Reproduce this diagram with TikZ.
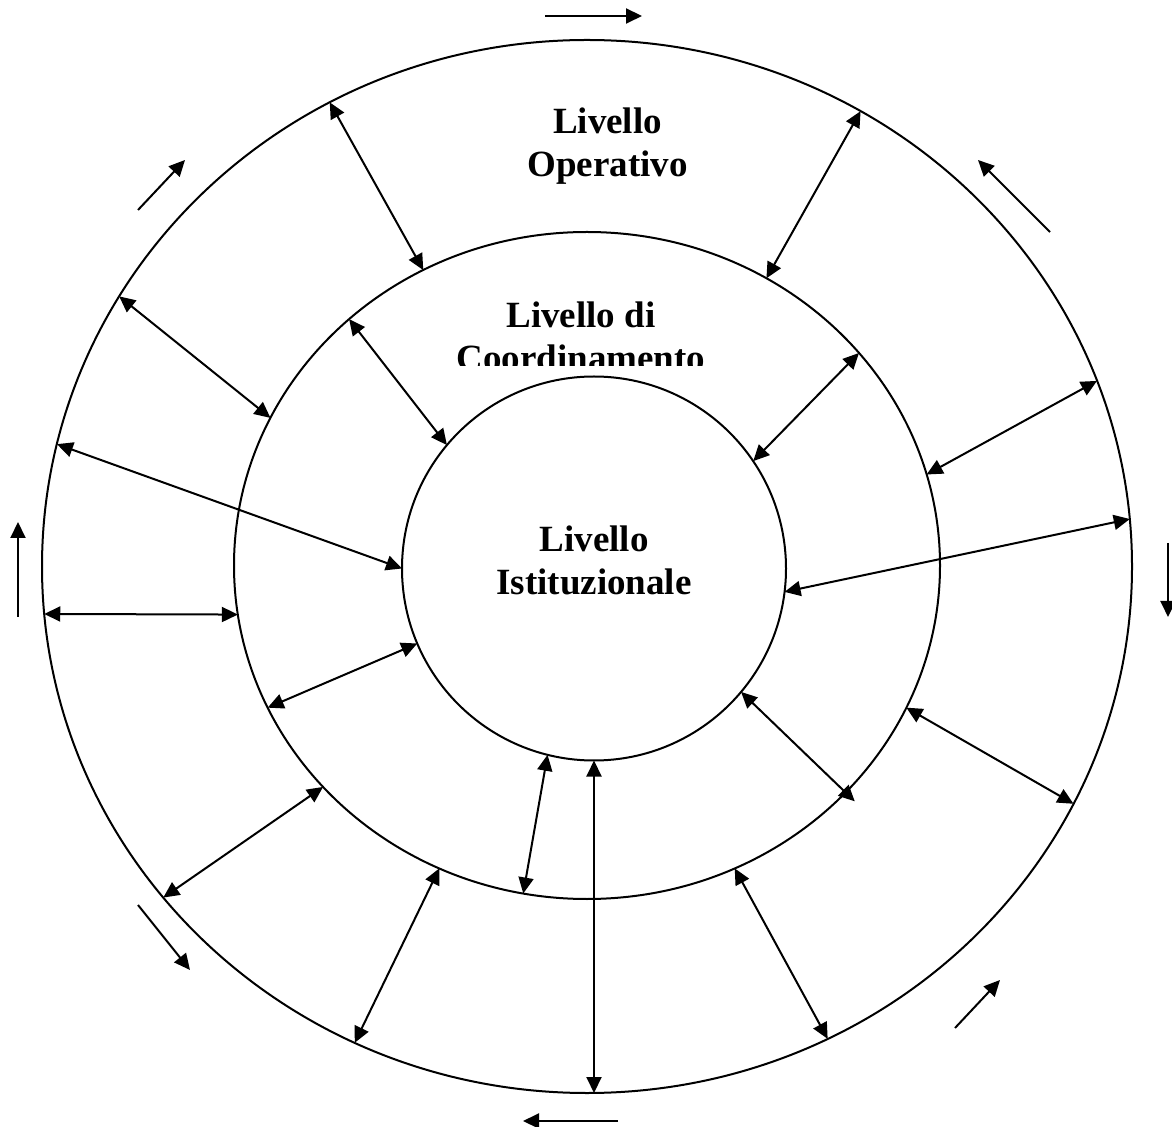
\documentclass[tikz,border=0pt]{standalone}
\usepackage{fontspec}
\setmainfont{Liberation Serif}
\usetikzlibrary{arrows.meta,shapes.geometric}

\begin{document}
\begin{tikzpicture}[x=0.5pt,y=-0.5pt,
  ring/.style={draw,ellipse,line width=1pt,inner sep=0pt,outer sep=0pt},
  link/.style={line width=1pt,{Triangle[length=8pt,width=7.5pt]}-{Triangle[length=8pt,width=7.5pt]}},
  flow/.style={line width=1pt,-{Triangle[length=8pt,width=7.5pt]}},
  lab/.style={font=\fontsize{18.5}{21.5}\selectfont\bfseries,align=center,inner sep=0pt}]
\useasboundingbox (0,0) rectangle (1172,1127);

% the three levels
\node[ring,minimum width=545pt,minimum height=526.5pt] (outer) at (587,566.5) {};
\node[ring,minimum width=353pt,minimum height=333.5pt] (middle) at (587,565.5) {};
\node[ring,minimum width=192pt,minimum height=192pt] (inner) at (594,568.5) {};

% labels
\node[lab] (op) at (607.5,146) {Livello\\Operativo};
\begin{scope}
  \clip (400,280) rectangle (760,366);
  \node[lab] (co) at (581,336) {Livello di\\Coordinamento};
\end{scope}
\node[lab] (is) at (594,560) {Livello\\Istituzionale};

% outer ring <-> middle ring
\draw[link] (outer.119.5) -- (middle.119.7);
\draw[link] (outer.59.2) -- (middle.58.5);
\draw[link] (outer.150.8) -- (middle.155.6);
\draw[link] (outer.20.5) -- (middle.15.5);
\draw[link] (outer.185.3) -- (middle.188.3);
\draw[link] (outer.-26.2) -- (middle.-24.9);
\draw[link] (outer.218.7) -- (middle.220.5);
\draw[link] (outer.244.3) -- (middle.244.2);
\draw[link] (outer.-63.2) -- (middle.-64.4);

% middle ring <-> inner ring
\draw[link] (middle.134.6) -- (inner.140.4);
\draw[link] (middle.38.3) -- (inner.34.4);
\draw[link] (middle.204.6) -- (inner.203.4);
\draw[link] ([shift={(8,10)}]middle.-41.6) -- (inner.-40.2);
\draw[link] (middle.259.2) -- (inner.256.6);

% outer ring <-> inner ring
\draw[link] (outer.167.5) -- (inner.180.4);
\draw[link] (outer.5.0) -- (inner.-7.0);
\draw[link] (inner.south) -- (inner.south |- outer.south);

% rotation arrows around the outside
\coordinate (t0) at (545,16);   \coordinate (t1) at (642,16);
\coordinate (b0) at (618,1121); \coordinate (b1) at (523,1121);
\coordinate (l0) at (18,617);   \coordinate (l1) at (18,522);
\coordinate (r0) at (1168,543); \coordinate (r1) at (1168,617);
\coordinate (tl0) at (138,210); \coordinate (tl1) at (185,160);
\coordinate (tr0) at (1050,232);\coordinate (tr1) at (978,160);
\coordinate (bl0) at (138,905); \coordinate (bl1) at (190,970);
\coordinate (br0) at (955,1028);\coordinate (br1) at (1000,980);
\draw[flow] (t0) -- (t1);
\draw[flow] (b0) -- (b1);
\draw[flow] (l0) -- (l1);
\draw[flow] (r0) -- (r1);
\draw[flow] (tl0) -- (tl1);
\draw[flow] (tr0) -- (tr1);
\draw[flow] (bl0) -- (bl1);
\draw[flow] (br0) -- (br1);
\end{tikzpicture}
\end{document}
